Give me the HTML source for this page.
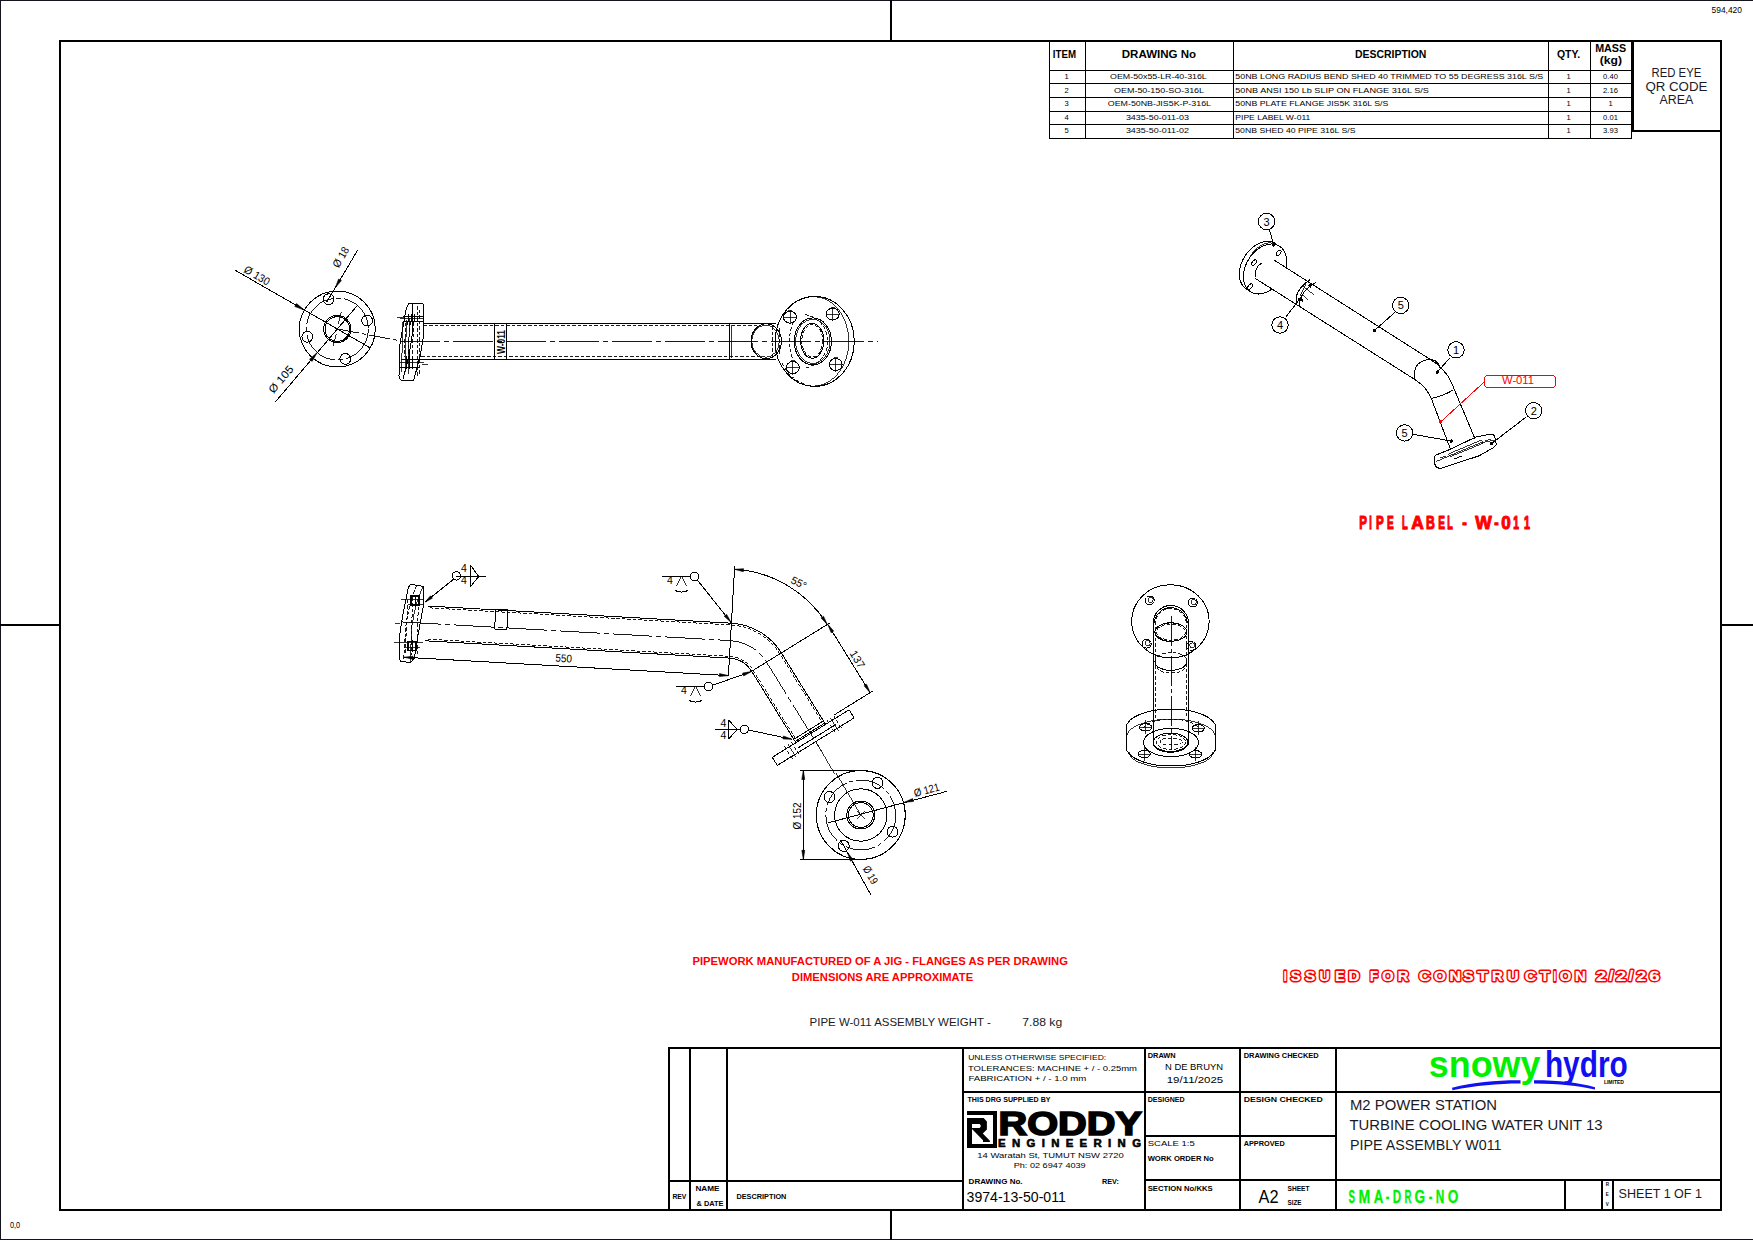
<!DOCTYPE html>
<html><head><meta charset="utf-8">
<style>
html,body{margin:0;padding:0;background:#fff;width:1753px;height:1240px;overflow:hidden}
svg{display:block;font-family:"Liberation Sans",sans-serif}
.k{fill:#000}
.t{fill:#000;font-family:"Liberation Sans",sans-serif}
</style></head>
<body>
<svg width="1753" height="1240" viewBox="0 0 1753 1240">
<!-- ===== FRAME ===== -->
<g id="frame" shape-rendering="crispEdges">
<rect x="0" y="0" width="1753" height="1" fill="#14141e"/>
<rect x="0" y="0" width="1" height="1240" fill="#14141e"/>
<rect x="0" y="1239" width="1753" height="1" fill="#14141e"/>
<rect x="59" y="40" width="1663" height="2" class="k"/>
<rect x="59" y="1209" width="1663" height="2" class="k"/>
<rect x="59" y="40" width="2" height="1171" class="k"/>
<rect x="1720" y="40" width="2" height="1171" class="k"/>
<rect x="890" y="0" width="2" height="41" class="k"/>
<rect x="890" y="1210" width="2" height="30" class="k"/>
<rect x="0" y="624" width="60" height="2" class="k"/>
<rect x="1721" y="624" width="32" height="2" class="k"/>
</g>
<text x="1711.5" y="13.2" font-size="8.3" class="t" textLength="30.5" lengthAdjust="spacingAndGlyphs">594,420</text>
<text x="10" y="1228.4" font-size="9" class="t" textLength="10.2" lengthAdjust="spacingAndGlyphs">0,0</text>

<!-- ===== BOM TABLE ===== -->
<g id="bom" shape-rendering="crispEdges">
<rect x="1049" y="40" width="1" height="99" class="k"/>
<rect x="1085" y="40" width="1" height="99" class="k"/>
<rect x="1233" y="40" width="1" height="99" class="k"/>
<rect x="1548" y="40" width="1" height="99" class="k"/>
<rect x="1590" y="40" width="1" height="99" class="k"/>
<rect x="1631" y="40" width="1" height="99" class="k"/>
<rect x="1049" y="70" width="583" height="1" class="k"/>
<rect x="1049" y="83" width="583" height="1" class="k"/>
<rect x="1049" y="97" width="583" height="1" class="k"/>
<rect x="1049" y="111" width="583" height="1" class="k"/>
<rect x="1049" y="124" width="583" height="1" class="k"/>
<rect x="1049" y="138" width="583" height="1" class="k"/>
<rect x="1632" y="40" width="2" height="92" class="k"/>
<rect x="1632" y="130" width="90" height="2" class="k"/>
</g>
<g id="bomtext" font-size="7.6" fill="#000">
<text x="1066.5" y="79" text-anchor="middle">1</text>
<text x="1110.1" y="79" textLength="96.7" lengthAdjust="spacingAndGlyphs">OEM-50x55-LR-40-316L</text>
<text x="1235.3" y="79" textLength="308.0" lengthAdjust="spacingAndGlyphs">50NB LONG RADIUS BEND SHED 40 TRIMMED TO 55 DEGRESS 316L S/S</text>
<text x="1568.6" y="79" text-anchor="middle">1</text>
<text x="1610.5" y="79" text-anchor="middle">0.40</text>
<text x="1066.5" y="93" text-anchor="middle">2</text>
<text x="1114.0" y="93" textLength="90.1" lengthAdjust="spacingAndGlyphs">OEM-50-150-SO-316L</text>
<text x="1235.3" y="93" textLength="193.6" lengthAdjust="spacingAndGlyphs">50NB ANSI 150 Lb SLIP ON  FLANGE 316L S/S</text>
<text x="1568.6" y="93" text-anchor="middle">1</text>
<text x="1610.5" y="93" text-anchor="middle">2.16</text>
<text x="1066.5" y="106.3" text-anchor="middle">3</text>
<text x="1107.8" y="106.3" textLength="103.2" lengthAdjust="spacingAndGlyphs">OEM-50NB-JIS5K-P-316L</text>
<text x="1235.3" y="106.3" textLength="153.1" lengthAdjust="spacingAndGlyphs">50NB PLATE FLANGE JIS5K 316L S/S</text>
<text x="1568.6" y="106.3" text-anchor="middle">1</text>
<text x="1610.5" y="106.3" text-anchor="middle">1</text>
<text x="1066.5" y="119.6" text-anchor="middle">4</text>
<text x="1125.9" y="119.6" textLength="63.1" lengthAdjust="spacingAndGlyphs">3435-50-011-03</text>
<text x="1235.3" y="119.6" textLength="75.0" lengthAdjust="spacingAndGlyphs">PIPE LABEL W-011</text>
<text x="1568.6" y="119.6" text-anchor="middle">1</text>
<text x="1610.5" y="119.6" text-anchor="middle">0.01</text>
<text x="1066.5" y="132.8" text-anchor="middle">5</text>
<text x="1125.9" y="132.8" textLength="63.1" lengthAdjust="spacingAndGlyphs">3435-50-011-02</text>
<text x="1235.3" y="132.8" textLength="120.2" lengthAdjust="spacingAndGlyphs">50NB SHED 40 PIPE 316L S/S</text>
<text x="1568.6" y="132.8" text-anchor="middle">1</text>
<text x="1610.5" y="132.8" text-anchor="middle">3.93</text>
</g>
<g id="bomhead" font-size="10.5" font-weight="bold" fill="#000">
<text x="1052.8" y="58" textLength="23.2" lengthAdjust="spacingAndGlyphs">ITEM</text>
<text x="1121.8" y="58" textLength="74.3" lengthAdjust="spacingAndGlyphs">DRAWING No</text>
<text x="1354.9" y="58" textLength="71.5" lengthAdjust="spacingAndGlyphs">DESCRIPTION</text>
<text x="1556.9" y="58" textLength="23.2" lengthAdjust="spacingAndGlyphs">QTY.</text>
<text x="1595.2" y="52" textLength="31" lengthAdjust="spacingAndGlyphs">MASS</text>
<text x="1599.7" y="63.5" textLength="22.3" lengthAdjust="spacingAndGlyphs">(kg)</text>
</g>
<g id="qr" font-size="12.3" fill="#1a1a28" text-anchor="middle">
<text x="1676.4" y="77.2" textLength="49.9" lengthAdjust="spacingAndGlyphs">RED EYE</text>
<text x="1676.4" y="91" textLength="62" lengthAdjust="spacingAndGlyphs">QR CODE</text>
<text x="1676.4" y="104" textLength="33.8" lengthAdjust="spacingAndGlyphs">AREA</text>
</g>
<!-- ===== TITLE BLOCK ===== -->
<g id="tb" shape-rendering="crispEdges" fill="#000">
<rect x="668" y="1047" width="1053" height="2"/>
<rect x="668" y="1047" width="2" height="163"/>
<rect x="689" y="1047" width="2" height="163"/>
<rect x="726" y="1047" width="2" height="163"/>
<rect x="668" y="1180" width="295" height="2"/>
<rect x="962" y="1047" width="2" height="163"/>
<rect x="962" y="1091" width="759" height="2"/>
<rect x="1144" y="1047" width="2" height="163"/>
<rect x="1239" y="1047" width="2" height="163"/>
<rect x="1335" y="1047" width="2" height="163"/>
<rect x="1144" y="1135" width="193" height="2"/>
<rect x="1144" y="1179" width="577" height="2"/>
<rect x="1564" y="1179" width="2" height="31"/>
<rect x="1601" y="1179" width="2" height="31"/>
<rect x="1612" y="1179" width="2" height="31"/>
</g>
<g id="tbtext" fill="#000">
<g font-size="7" font-weight="bold">
<text x="672.4" y="1198.5" textLength="14" lengthAdjust="spacingAndGlyphs">REV</text>
<text x="695.4" y="1190.5" textLength="24" lengthAdjust="spacingAndGlyphs">NAME</text>
<text x="696.5" y="1205.5" textLength="27" lengthAdjust="spacingAndGlyphs">&amp; DATE</text>
<text x="736.4" y="1198.5" textLength="50" lengthAdjust="spacingAndGlyphs">DESCRIPTION</text>
</g>
<g font-size="7.8">
<text x="968.2" y="1060" textLength="138" lengthAdjust="spacingAndGlyphs">UNLESS  OTHERWISE SPECIFIED:</text>
<text x="968" y="1071.2" textLength="169" lengthAdjust="spacingAndGlyphs">TOLERANCES: MACHINE + / - 0.25mm</text>
<text x="968.4" y="1081.3" textLength="118" lengthAdjust="spacingAndGlyphs">FABRICATION + / - 1.0 mm</text>
</g>
<g font-size="6.6" font-weight="bold">
<text x="967.5" y="1102.2" textLength="83" lengthAdjust="spacingAndGlyphs">THIS DRG SUPPLIED BY</text>
<text x="968.6" y="1184" textLength="54" lengthAdjust="spacingAndGlyphs">DRAWING No.</text>
<text x="1101.9" y="1184" textLength="17" lengthAdjust="spacingAndGlyphs">REV:</text>
<text x="1147.7" y="1058" textLength="28" lengthAdjust="spacingAndGlyphs">DRAWN</text>
<text x="1147.7" y="1102" textLength="37" lengthAdjust="spacingAndGlyphs">DESIGNED</text>
<text x="1147.7" y="1160.8" textLength="66" lengthAdjust="spacingAndGlyphs">WORK ORDER No</text>
<text x="1147.7" y="1191.4" textLength="65" lengthAdjust="spacingAndGlyphs">SECTION No/KKS</text>
<text x="1243.7" y="1058" textLength="75" lengthAdjust="spacingAndGlyphs">DRAWING CHECKED</text>
<text x="1243.7" y="1102" textLength="79" lengthAdjust="spacingAndGlyphs">DESIGN  CHECKED</text>
<text x="1243.7" y="1146" textLength="41" lengthAdjust="spacingAndGlyphs">APPROVED</text>
<text x="1287.5" y="1191" textLength="22" lengthAdjust="spacingAndGlyphs">SHEET</text>
<text x="1287.5" y="1204.8" textLength="14" lengthAdjust="spacingAndGlyphs">SIZE</text>
</g>
<text x="1147.7" y="1146" font-size="7.6" textLength="47" lengthAdjust="spacingAndGlyphs">SCALE   1:5</text>
<text x="1165" y="1070" font-size="9.6" textLength="58" lengthAdjust="spacingAndGlyphs">N DE BRUYN</text>
<text x="1166.7" y="1083" font-size="9.6" textLength="56.5" lengthAdjust="spacingAndGlyphs">19/11/2025</text>
<text x="966.6" y="1202" font-size="14.4" textLength="99.2" lengthAdjust="spacingAndGlyphs">3974-13-50-011</text>
<text x="977.3" y="1158.4" font-size="8" textLength="146.4" lengthAdjust="spacingAndGlyphs">14 Waratah St, TUMUT NSW 2720</text>
<text x="1013.7" y="1168.3" font-size="8" textLength="72" lengthAdjust="spacingAndGlyphs">Ph: 02 6947 4039</text>
<text x="1258.5" y="1203" font-size="18" textLength="20" lengthAdjust="spacingAndGlyphs">A2</text>
<g font-size="14.4" fill="#1a1a24">
<text x="1350" y="1110" textLength="147" lengthAdjust="spacingAndGlyphs">M2 POWER STATION</text>
<text x="1349.5" y="1130" textLength="253" lengthAdjust="spacingAndGlyphs">TURBINE COOLING WATER UNIT 13</text>
<text x="1350" y="1150" textLength="151.5" lengthAdjust="spacingAndGlyphs">PIPE ASSEMBLY  W011</text>
</g>
<text x="1618.6" y="1197.5" font-size="13" fill="#1a1a24" textLength="83.4" lengthAdjust="spacingAndGlyphs">SHEET 1 OF 1</text>
<g id="smadrg" font-size="18.9" font-weight="bold" fill="#00f000" stroke="#00f000" stroke-width="0.25" text-anchor="middle">
<text vector-effect="non-scaling-stroke" transform="translate(1351.85 1202.8) scale(0.516 1)">S</text>
<text vector-effect="non-scaling-stroke" transform="translate(1364.45 1202.8) scale(0.745 1)">M</text>
<text vector-effect="non-scaling-stroke" transform="translate(1378.55 1202.8) scale(0.699 1)">A</text>
<text vector-effect="non-scaling-stroke" transform="translate(1387.50 1202.8) scale(0.571 1)">-</text>
<text vector-effect="non-scaling-stroke" transform="translate(1396.90 1202.8) scale(0.618 1)">D</text>
<text vector-effect="non-scaling-stroke" transform="translate(1408.05 1202.8) scale(0.507 1)">R</text>
<text vector-effect="non-scaling-stroke" transform="translate(1419.90 1202.8) scale(0.721 1)">G</text>
<text vector-effect="non-scaling-stroke" transform="translate(1430.50 1202.8) scale(0.571 1)">-</text>
<text vector-effect="non-scaling-stroke" transform="translate(1439.95 1202.8) scale(0.625 1)">N</text>
<text vector-effect="non-scaling-stroke" transform="translate(1453.00 1202.8) scale(0.721 1)">O</text>
</g>
<g font-size="4.5" font-weight="bold" text-anchor="middle">
<text x="1607.3" y="1186">R</text><text x="1607.3" y="1196">E</text><text x="1607.3" y="1206">V</text>
</g>
</g>

<!-- ===== LOGOS ===== -->
<g id="roddy" fill="#000">
<rect x="967" y="1111" width="30" height="4"/>
<rect x="993" y="1111" width="4" height="37"/>
<rect x="967" y="1144" width="30" height="4"/>
<path d="M967 1118 H983.6 L986.9 1121.4 V1129.5 L982.8 1133.6 L989.9 1140.7 V1141.9 H983 V1140.2 L972 1129 V1144 H967 Z M972 1123.9 V1128 H979.7 L981 1125.9 L979.7 1123.9 Z" fill-rule="evenodd"/>
<text x="998.5" y="1135" font-size="32.5" font-weight="bold" stroke="#000" stroke-width="1.6" textLength="143.5" lengthAdjust="spacingAndGlyphs">RODDY</text>
<text x="998" y="1147.4" font-size="11.4" font-weight="bold" stroke="#000" stroke-width="0.6" textLength="143" lengthAdjust="spacing">ENGINEERING</text>
</g>
<g id="snowy">
<text x="1428.8" y="1077.4" font-size="37" font-weight="bold" fill="#00f000" textLength="111.7" lengthAdjust="spacingAndGlyphs">snowy</text>
<text x="1544.9" y="1077.4" font-size="37" font-weight="bold" fill="#1010f0" textLength="82.8" lengthAdjust="spacingAndGlyphs">hydro</text>
<path d="M1452 1087.8 C1475 1082 1495 1080.2 1520.5 1080.3 L1520.5 1083.6 C1497 1083.6 1476 1085.8 1452.5 1090.2 Z" fill="#1010f0"/>
<path d="M1534 1080.3 C1560 1080.3 1578 1082.8 1595 1087.2 L1595 1089.6 C1578 1086 1560 1083.8 1534 1083.6 Z" fill="#1010f0"/>
<text x="1603.9" y="1083.6" font-size="5" font-weight="bold" fill="#000" textLength="20" lengthAdjust="spacingAndGlyphs">LIMITED</text>
</g>
<!-- ===== NOTES ===== -->
<g id="notes">
<text x="692.5" y="965" font-size="11.8" font-weight="bold" fill="#f00" textLength="375.4" lengthAdjust="spacingAndGlyphs">PIPEWORK MANUFACTURED OF A JIG - FLANGES AS PER DRAWING</text>
<text x="791.8" y="980.8" font-size="11.8" font-weight="bold" fill="#f00" textLength="181.4" lengthAdjust="spacingAndGlyphs">DIMENSIONS ARE APPROXIMATE</text>
<text x="809.6" y="1026" font-size="11.3" fill="#1a1a24" textLength="181.2" lengthAdjust="spacingAndGlyphs">PIPE W-011 ASSEMBLY WEIGHT -</text>
<text x="1022.3" y="1026" font-size="11.3" fill="#1a1a24" textLength="39.9" lengthAdjust="spacingAndGlyphs">7.88 kg</text>
<g font-size="18.90" font-weight="bold" fill="#f00" stroke="#f00" stroke-width="1.0" vector-effect="non-scaling-stroke" stroke-linejoin="round" >
<text vector-effect="non-scaling-stroke" transform="translate(1359.15 528.50) scale(0.611 1)">P</text>
<text vector-effect="non-scaling-stroke" transform="translate(1369.15 528.50) scale(0.476 1)">I</text>
<text vector-effect="non-scaling-stroke" transform="translate(1376.05 528.50) scale(0.611 1)">P</text>
<text vector-effect="non-scaling-stroke" transform="translate(1387.05 528.50) scale(0.532 1)">E</text>
<text vector-effect="non-scaling-stroke" transform="translate(1401.95 528.50) scale(0.494 1)">L</text>
<text vector-effect="non-scaling-stroke" transform="translate(1411.25 528.50) scale(0.916 1)">A</text>
<text vector-effect="non-scaling-stroke" transform="translate(1426.05 528.50) scale(0.645 1)">B</text>
<text vector-effect="non-scaling-stroke" transform="translate(1438.15 528.50) scale(0.532 1)">E</text>
<text vector-effect="non-scaling-stroke" transform="translate(1447.25 528.50) scale(0.476 1)">L</text>
<text vector-effect="non-scaling-stroke" transform="translate(1462.25 528.50) scale(0.731 1)">-</text>
<text vector-effect="non-scaling-stroke" transform="translate(1475.25 528.50) scale(0.925 1)">W</text>
<text vector-effect="non-scaling-stroke" transform="translate(1494.15 528.50) scale(0.699 1)">-</text>
<text vector-effect="non-scaling-stroke" transform="translate(1501.25 528.50) scale(0.904 1)">0</text>
<text vector-effect="non-scaling-stroke" transform="translate(1513.15 528.50) scale(0.543 1)">1</text>
<text vector-effect="non-scaling-stroke" transform="translate(1523.95 528.50) scale(0.571 1)">1</text>
</g>
<g id="ifc">
<g font-size="14.97" font-weight="bold" fill="#f00" stroke="#f00" stroke-width="3.2" vector-effect="non-scaling-stroke" stroke-linejoin="round" >
<text vector-effect="non-scaling-stroke" transform="translate(1283.80 980.55) scale(0.721 1)">I</text>
<text vector-effect="non-scaling-stroke" transform="translate(1290.80 980.55) scale(0.991 1)">S</text>
<text vector-effect="non-scaling-stroke" transform="translate(1304.90 980.55) scale(1.031 1)">S</text>
<text vector-effect="non-scaling-stroke" transform="translate(1319.40 980.55) scale(0.944 1)">U</text>
<text vector-effect="non-scaling-stroke" transform="translate(1335.20 980.55) scale(0.941 1)">E</text>
<text vector-effect="non-scaling-stroke" transform="translate(1348.60 980.55) scale(1.018 1)">D</text>
<text vector-effect="non-scaling-stroke" transform="translate(1370.00 980.55) scale(0.875 1)">F</text>
<text vector-effect="non-scaling-stroke" transform="translate(1382.20 980.55) scale(0.979 1)">O</text>
<text vector-effect="non-scaling-stroke" transform="translate(1397.80 980.55) scale(0.999 1)">R</text>
<text vector-effect="non-scaling-stroke" transform="translate(1418.90 980.55) scale(1.055 1)">C</text>
<text vector-effect="non-scaling-stroke" transform="translate(1434.00 980.55) scale(1.022 1)">O</text>
<text vector-effect="non-scaling-stroke" transform="translate(1449.50 980.55) scale(1.055 1)">N</text>
<text vector-effect="non-scaling-stroke" transform="translate(1463.30 980.55) scale(1.031 1)">S</text>
<text vector-effect="non-scaling-stroke" transform="translate(1477.40 980.55) scale(1.126 1)">T</text>
<text vector-effect="non-scaling-stroke" transform="translate(1492.00 980.55) scale(1.008 1)">R</text>
<text vector-effect="non-scaling-stroke" transform="translate(1507.20 980.55) scale(1.055 1)">U</text>
<text vector-effect="non-scaling-stroke" transform="translate(1524.70 980.55) scale(1.064 1)">C</text>
<text vector-effect="non-scaling-stroke" transform="translate(1539.90 980.55) scale(1.060 1)">T</text>
<text vector-effect="non-scaling-stroke" transform="translate(1553.40 980.55) scale(0.649 1)">I</text>
<text vector-effect="non-scaling-stroke" transform="translate(1559.80 980.55) scale(0.987 1)">O</text>
<text vector-effect="non-scaling-stroke" transform="translate(1575.00 980.55) scale(1.008 1)">N</text>
<text vector-effect="non-scaling-stroke" transform="translate(1596.10 980.55) scale(1.237 1)">2</text>
<text vector-effect="non-scaling-stroke" transform="translate(1608.90 980.55) scale(1.081 1)">/</text>
<text vector-effect="non-scaling-stroke" transform="translate(1616.00 980.55) scale(1.225 1)">2</text>
<text vector-effect="non-scaling-stroke" transform="translate(1628.80 980.55) scale(1.057 1)">/</text>
<text vector-effect="non-scaling-stroke" transform="translate(1636.40 980.55) scale(1.165 1)">2</text>
<text vector-effect="non-scaling-stroke" transform="translate(1649.30 980.55) scale(1.237 1)">6</text>
</g>
<g font-size="14.97" font-weight="bold" fill="#fff" stroke="#fff" stroke-width="0.2" vector-effect="non-scaling-stroke" stroke-linejoin="round" >
<text vector-effect="non-scaling-stroke" transform="translate(1283.80 980.55) scale(0.721 1)">I</text>
<text vector-effect="non-scaling-stroke" transform="translate(1290.80 980.55) scale(0.991 1)">S</text>
<text vector-effect="non-scaling-stroke" transform="translate(1304.90 980.55) scale(1.031 1)">S</text>
<text vector-effect="non-scaling-stroke" transform="translate(1319.40 980.55) scale(0.944 1)">U</text>
<text vector-effect="non-scaling-stroke" transform="translate(1335.20 980.55) scale(0.941 1)">E</text>
<text vector-effect="non-scaling-stroke" transform="translate(1348.60 980.55) scale(1.018 1)">D</text>
<text vector-effect="non-scaling-stroke" transform="translate(1370.00 980.55) scale(0.875 1)">F</text>
<text vector-effect="non-scaling-stroke" transform="translate(1382.20 980.55) scale(0.979 1)">O</text>
<text vector-effect="non-scaling-stroke" transform="translate(1397.80 980.55) scale(0.999 1)">R</text>
<text vector-effect="non-scaling-stroke" transform="translate(1418.90 980.55) scale(1.055 1)">C</text>
<text vector-effect="non-scaling-stroke" transform="translate(1434.00 980.55) scale(1.022 1)">O</text>
<text vector-effect="non-scaling-stroke" transform="translate(1449.50 980.55) scale(1.055 1)">N</text>
<text vector-effect="non-scaling-stroke" transform="translate(1463.30 980.55) scale(1.031 1)">S</text>
<text vector-effect="non-scaling-stroke" transform="translate(1477.40 980.55) scale(1.126 1)">T</text>
<text vector-effect="non-scaling-stroke" transform="translate(1492.00 980.55) scale(1.008 1)">R</text>
<text vector-effect="non-scaling-stroke" transform="translate(1507.20 980.55) scale(1.055 1)">U</text>
<text vector-effect="non-scaling-stroke" transform="translate(1524.70 980.55) scale(1.064 1)">C</text>
<text vector-effect="non-scaling-stroke" transform="translate(1539.90 980.55) scale(1.060 1)">T</text>
<text vector-effect="non-scaling-stroke" transform="translate(1553.40 980.55) scale(0.649 1)">I</text>
<text vector-effect="non-scaling-stroke" transform="translate(1559.80 980.55) scale(0.987 1)">O</text>
<text vector-effect="non-scaling-stroke" transform="translate(1575.00 980.55) scale(1.008 1)">N</text>
<text vector-effect="non-scaling-stroke" transform="translate(1596.10 980.55) scale(1.237 1)">2</text>
<text vector-effect="non-scaling-stroke" transform="translate(1608.90 980.55) scale(1.081 1)">/</text>
<text vector-effect="non-scaling-stroke" transform="translate(1616.00 980.55) scale(1.225 1)">2</text>
<text vector-effect="non-scaling-stroke" transform="translate(1628.80 980.55) scale(1.057 1)">/</text>
<text vector-effect="non-scaling-stroke" transform="translate(1636.40 980.55) scale(1.165 1)">2</text>
<text vector-effect="non-scaling-stroke" transform="translate(1649.30 980.55) scale(1.237 1)">6</text>
</g>
</g>
</g>

<!-- ===== VIEWS ===== -->
<style>.l{fill:none;stroke:#000;stroke-width:1}.d{fill:none;stroke:#000;stroke-width:0.9;stroke-dasharray:3.5 2}.c{fill:none;stroke:#000;stroke-width:0.9;stroke-dasharray:18 3 3 3}.tn{fill:none;stroke:#000;stroke-width:0.8}.r{fill:none;stroke:#f00;stroke-width:1}</style>
<g id="viewA" fill="#000" shape-rendering="crispEdges">
<circle cx="337.3" cy="329" r="38" class="l" />
<circle cx="337.3" cy="329" r="31" class="c" style="stroke-dasharray:40 3 5 3"/>
<circle cx="337.3" cy="329" r="13.6" class="l" />
<circle cx="337.3" cy="329" r="12.3" class="l" />
<circle cx="328.6" cy="299.2" r="5.4" class="l" />
<circle cx="367.1" cy="320.6" r="5.4" class="l" />
<circle cx="307.3" cy="336.8" r="5.4" class="l" />
<circle cx="345.3" cy="358.9" r="5.4" class="l" />
<line x1="235.1" y1="270.2" x2="370.2" y2="347.9" class="l" />
<path d="M304.4 310.1 L294.8 306.5 L296.5 303.6Z" fill="#000" stroke="#000" stroke-width="0.6" shape-rendering="geometricPrecision"/>
<text x="243" y="271.8" font-size="11" text-anchor="start" transform="rotate(29.9 243 271.8)" textLength="28" lengthAdjust="spacingAndGlyphs">Ø 130</text>
<line x1="275.5" y1="401.8" x2="357.4" y2="305.4" class="l" />
<path d="M317.2 352.6 L312.1 361.4 L309.5 359.2Z" fill="#000" stroke="#000" stroke-width="0.6" shape-rendering="geometricPrecision"/>
<text x="273.5" y="394" font-size="11" text-anchor="start" transform="rotate(-49.7 273.5 394)" textLength="32" lengthAdjust="spacingAndGlyphs">Ø 105</text>
<line x1="357.6" y1="250.3" x2="326.5" y2="302.5" class="l" />
<path d="M335.4 287.5 L338.6 279 L341.4 280.6Z" fill="#000" stroke="#000" stroke-width="0.6" shape-rendering="geometricPrecision"/>
<text x="338.5" y="268.5" font-size="11" text-anchor="start" transform="rotate(-59.6 338.5 268.5)" textLength="22" lengthAdjust="spacingAndGlyphs">Ø 18</text>
<line x1="337.3" y1="329" x2="400" y2="340.8" class="c" style="stroke-dasharray:22 3 4 3"/>
<line x1="338.4" y1="324.1" x2="341.1" y2="312.4" class="tn" />
<line x1="336.2" y1="333.9" x2="333.5" y2="345.6" class="tn" />
<line x1="333" y1="326.5" x2="322.6" y2="320.5" class="tn" />
</g>
<g id="viewB" fill="#000" shape-rendering="crispEdges">
<path d="M410.3 303 L423 304 Q424 305 423.7 310 L423.7 334.8 L420.2 356.3 L413.7 380 L401.1 380 Q399 379 399 376 L399.2 348.6 L404.5 318 L406.5 308 Q408 303.5 410.3 303Z" class="l" />
<path d="M412.6 303.2 L413 330 L409 356 L403 379" class="l" />
<line x1="417" y1="306" x2="417" y2="378" class="d" />
<line x1="420" y1="310" x2="419.5" y2="376" class="d" />
<line x1="406.5" y1="320" x2="405" y2="372" class="tn" />
<line x1="409.5" y1="318" x2="408" y2="374" class="tn" />
<path d="M399.5 318 L424 318 M399.5 362 L424 362 M397 317.5 L405 317.5 M422 364.5 L428 364.5" class="tn" />
<path d="M403 316.5 L423 316.5 M402.5 321.5 L423.5 321.5 M400.5 359 L421 359 M400 367 L418.5 367" class="l" stroke-width="1.3"/>
<line x1="408.5" y1="314" x2="407.7" y2="325" class="l" stroke-width="1.4"/>
<line x1="407" y1="356" x2="406" y2="369" class="l" stroke-width="1.4"/>
<line x1="411.5" y1="314" x2="410.7" y2="325" class="l" stroke-width="1.4"/>
<line x1="410" y1="356" x2="409" y2="369" class="l" stroke-width="1.4"/>
<line x1="414.5" y1="314" x2="413.7" y2="325" class="l" stroke-width="1.4"/>
<line x1="413" y1="356" x2="412" y2="369" class="l" stroke-width="1.4"/>
<line x1="405.5" y1="323" x2="404.5" y2="357" class="d" />
<line x1="409.5" y1="323" x2="408.5" y2="357" class="d" />
<line x1="413.5" y1="323" x2="412.5" y2="357" class="d" />
<line x1="402.8" y1="322" x2="401.5" y2="372" class="tn" />
<line x1="423.7" y1="323.8" x2="776" y2="323.8" class="l" />
<line x1="419.8" y1="359.5" x2="776" y2="359.5" class="l" />
<line x1="423.7" y1="325.6" x2="760" y2="325.6" class="d" />
<line x1="421" y1="356.6" x2="760" y2="356.6" class="d" />
<line x1="400" y1="341" x2="878" y2="341" class="c" style="stroke-dasharray:40 4 5 4"/>
<line x1="494.5" y1="323.8" x2="494.5" y2="359.5" class="l" />
<line x1="506.7" y1="323.8" x2="506.7" y2="359.5" class="l" />
<text x="0" y="0" font-size="10.5" font-weight="bold" transform="translate(504.5 354) rotate(-90)" textLength="24" lengthAdjust="spacingAndGlyphs">W-011</text>
<line x1="729.3" y1="323.8" x2="729.3" y2="359.5" class="l" />
<line x1="731.2" y1="325" x2="731.2" y2="358" class="tn" />
<ellipse cx="766.2" cy="341.2" rx="15.2" ry="17.4" class="l" />
<ellipse cx="765.5" cy="341.2" rx="13.8" ry="16" class="tn" />
<line x1="772.2" y1="326" x2="772.2" y2="357" class="d" />
<line x1="779.4" y1="328" x2="779.4" y2="355" class="d" />
<ellipse cx="814.7" cy="341.4" rx="39.6" ry="45" class="l" />
<path d="M815 296.6 A35 44.5 0 0 1 848.8 341 A35 44.5 0 0 1 815 386" class="tn" />
<path d="M778 325 A37 42 0 0 1 800 300" class="d" />
<path d="M782 363 A37 42 0 0 0 805 384" class="d" />
<ellipse cx="812.8" cy="341.4" rx="18.6" ry="23.5" class="l" />
<ellipse cx="812.8" cy="341.4" rx="17.2" ry="22" class="tn" />
<ellipse cx="812.2" cy="340.8" rx="11.6" ry="17.4" class="l" />
<ellipse cx="812.2" cy="340.8" rx="10.4" ry="16.2" class="d" />
<path d="M805.2 314.6 A27 27 0 0 1 805 367.9" class="d" />
<path d="M793 322 Q786 341 793 360" class="d" />
<ellipse cx="790" cy="317.1" rx="6.5" ry="6" class="l" />
<line x1="790" y1="310.1" x2="790" y2="324.1" class="tn" />
<line x1="783" y1="317.1" x2="797" y2="317.1" class="tn" />
<line x1="788" y1="310.1" x2="792" y2="310.1" class="tn" />
<ellipse cx="832.7" cy="314.1" rx="6.5" ry="6" class="l" />
<line x1="832.7" y1="307.1" x2="832.7" y2="321.1" class="tn" />
<line x1="825.7" y1="314.1" x2="839.7" y2="314.1" class="tn" />
<line x1="830.7" y1="307.1" x2="834.7" y2="307.1" class="tn" />
<ellipse cx="792.9" cy="367.5" rx="6.5" ry="6" class="l" />
<line x1="792.9" y1="360.5" x2="792.9" y2="374.5" class="tn" />
<line x1="785.9" y1="367.5" x2="799.9" y2="367.5" class="tn" />
<line x1="790.9" y1="360.5" x2="794.9" y2="360.5" class="tn" />
<ellipse cx="835.7" cy="364.5" rx="6.5" ry="6" class="l" />
<line x1="835.7" y1="357.5" x2="835.7" y2="371.5" class="tn" />
<line x1="828.7" y1="364.5" x2="842.7" y2="364.5" class="tn" />
<line x1="833.7" y1="357.5" x2="837.7" y2="357.5" class="tn" />
</g>
<g id="viewC" fill="#000" shape-rendering="crispEdges">
<path d="M427.4 606 L731.4 623.2 A63 63 0 0 1 781.4 653 L825.6 724.4" class="l" />
<path d="M425.4 640.8 L729.4 658.1 A28.1 28.1 0 0 1 751.7 671.3 L795.9 742.7" class="l" />
<path d="M429.8 607.9 L731.3 625 A61.2 61.2 0 0 1 779.9 653.9 L822 721.9" class="d" />
<path d="M428 639.2 L729.5 656.3 A29.8 29.8 0 0 1 753.2 670.4 L795.3 738.4" class="d" />
<path d="M400.9 621.9 L730.4 640.6 A45.5 45.5 0 0 1 766.5 662.1 L821.2 750.6" class="c" style="stroke-dasharray:40 4 5 4"/>
<line x1="817" y1="743.8" x2="834.4" y2="773.5" class="tn" />
<line x1="495.7" y1="609.8" x2="494.6" y2="629" class="l" />
<line x1="507.9" y1="610.5" x2="506.9" y2="629.7" class="l" />
<path d="M495.7 609.3 L507.9 610" class="l" stroke-width="2.5"/>
<line x1="494.6" y1="629" x2="506.9" y2="629.7" class="l" />
<line x1="728.4" y1="676.1" x2="734.7" y2="565.8" class="l" />
<line x1="750.8" y1="671.8" x2="829.9" y2="622.9" class="l" />
<line x1="834.4" y1="714.8" x2="872.6" y2="691.1" class="l" />
<line x1="827.7" y1="624.2" x2="870.1" y2="692.7" class="l" />
<path d="M827.7 624.2 L833.7 631.1 L831.2 632.7Z" fill="#000" stroke="#000" stroke-width="0.6" shape-rendering="geometricPrecision"/>
<path d="M870.1 692.7 L864.1 685.8 L866.6 684.3Z" fill="#000" stroke="#000" stroke-width="0.6" shape-rendering="geometricPrecision"/>
<text x="849.2" y="653.3" font-size="11" text-anchor="start" transform="rotate(58.2 849.2 653.3)" textLength="19" lengthAdjust="spacingAndGlyphs">137</text>
<path d="M734.5 569.3 A117 117 0 0 1 827.3 624.5" class="l" />
<path d="M734.5 569.3 L743.6 568.7 L743.3 571.7Z" fill="#000" stroke="#000" stroke-width="0.6" shape-rendering="geometricPrecision"/>
<path d="M827.3 624.5 L821 617.9 L823.5 616.2Z" fill="#000" stroke="#000" stroke-width="0.6" shape-rendering="geometricPrecision"/>
<text x="790.1" y="582.4" font-size="10.5" text-anchor="start" transform="rotate(27 790.1 582.4)" textLength="16" lengthAdjust="spacingAndGlyphs">55°</text>
<line x1="403.9" y1="657.2" x2="728.4" y2="675.6" class="l" />
<path d="M403.9 657.2 L413 656.2 L412.8 659.2Z" fill="#000" stroke="#000" stroke-width="0.6" shape-rendering="geometricPrecision"/>
<path d="M728.4 675.6 L719.3 676.6 L719.5 673.6Z" fill="#000" stroke="#000" stroke-width="0.6" shape-rendering="geometricPrecision"/>
<text x="555.3" y="661.6" font-size="11" text-anchor="start" transform="rotate(3.2 555.3 661.6)" textLength="16.5" lengthAdjust="spacingAndGlyphs">550</text>
<path d="M410.7 584.2 L423.3 586.5 L423.3 606 L417 641 L414.5 657.8 L410.7 662.4 L401 661.5 Q399.2 660 399.2 657 L399.2 637.8 L402.3 617.9 L406.9 594.9 Q408 586 410.7 584.2Z" class="l" />
<path d="M423 587 Q416 600 412 625 L410 662" class="tn" />
<path d="M416.5 585.5 Q410 600 406 625 L403.5 660" class="d" />
<line x1="418.5" y1="596" x2="417" y2="655" class="d" />
<line x1="408" y1="600" x2="405" y2="655" class="d" />
<line x1="412.5" y1="598" x2="411" y2="655" class="d" />
<line x1="401.1" y1="599.5" x2="424" y2="599.5" class="tn" />
<line x1="394.2" y1="642.4" x2="423" y2="642.4" class="tn" />
<line x1="395" y1="623" x2="400" y2="623" class="tn" />
<line x1="404" y1="647" x2="420" y2="647" class="tn" />
<line x1="408" y1="604" x2="423" y2="604" class="tn" />
<rect x="411" y="596.0" width="8" height="9" fill="none" stroke="#000" stroke-width="1.5"/>
<line x1="415" y1="594.5" x2="415" y2="606.5" class="l" stroke-width="2"/>
<rect x="408" y="641.5" width="8" height="9" fill="none" stroke="#000" stroke-width="1.5"/>
<line x1="412" y1="640" x2="412" y2="652" class="l" stroke-width="2"/>
<circle cx="456.4" cy="575.9" r="4.2" class="l" />
<line x1="456.1" y1="576.5" x2="485.9" y2="576.5" class="l" />
<line x1="470.5" y1="565.1" x2="470.5" y2="586.7" class="l" />
<path d="M470.5 565.1 L478.7 576.5 L470.5 586.7" class="l" />
<text x="461" y="571.8" font-size="10.5" text-anchor="start" >4</text>
<text x="461" y="583.8" font-size="10.5" text-anchor="start" >4</text>
<line x1="453.7" y1="579.2" x2="425.2" y2="602" class="l" />
<path d="M425.2 602 L430.5 595.8 L432.4 598.2Z" fill="#000" stroke="#000" stroke-width="0.6" shape-rendering="geometricPrecision"/>
<line x1="662.1" y1="576.4" x2="690.1" y2="576.4" class="l" />
<circle cx="694.4" cy="576.4" r="4.3" class="l" />
<path d="M676.5 586.4 L681.5 576.4 L686.5 586.4" class="tn" />
<path d="M675.5 589.9 L676.5 591.2 L680.5 591.2 L681.5 592.4 L682.5 591.2 L686.5 591.2 L687.5 589.9" class="l" />
<text x="667.1" y="583.7" font-size="10.5" text-anchor="start" >4</text>
<line x1="697.2" y1="579.8" x2="731" y2="622.3" class="l" />
<path d="M731 622.3 L724.2 616.2 L726.6 614.3Z" fill="#000" stroke="#000" stroke-width="0.6" shape-rendering="geometricPrecision"/>
<line x1="675.9" y1="686.3" x2="704.3" y2="686.3" class="l" />
<circle cx="708.6" cy="686.3" r="4.3" class="l" />
<path d="M690.5 696.3 L695.5 686.3 L700.5 696.3" class="tn" />
<path d="M689.5 699.8 L690.5 701.1 L694.5 701.1 L695.5 702.3 L696.5 701.1 L700.5 701.1 L701.5 699.8" class="l" />
<text x="680.9" y="693.6" font-size="10.5" text-anchor="start" >4</text>
<line x1="712.8" y1="685.2" x2="751.6" y2="671.5" class="l" />
<path d="M751.6 671.5 L743.6 675.9 L742.6 673.1Z" fill="#000" stroke="#000" stroke-width="0.6" shape-rendering="geometricPrecision"/>
<circle cx="744.4" cy="729.3" r="4.2" class="l" />
<line x1="715" y1="729.3" x2="740.2" y2="729.3" class="l" />
<line x1="728.4" y1="719.9" x2="728.4" y2="739.4" class="l" />
<path d="M728.4 719.9 L737.3 729.3 L728.4 739.4" class="l" />
<text x="720.4" y="727" font-size="10.5" text-anchor="start" >4</text>
<text x="720.4" y="739" font-size="10.5" text-anchor="start" >4</text>
<line x1="748.5" y1="730" x2="792" y2="739.3" class="l" />
<path d="M792 739.3 L782.9 738.9 L783.5 736Z" fill="#000" stroke="#000" stroke-width="0.6" shape-rendering="geometricPrecision"/>
<path d="M772.3 757.3 L777.3 765.4 L854.1 717.9 L849.1 709.8Z" class="l" />
<line x1="793.8" y1="739.3" x2="823.4" y2="721" class="l" />
<line x1="795.1" y1="741.5" x2="824.8" y2="723.1" class="l" />
<line x1="798.3" y1="747.7" x2="835.7" y2="724.6" class="l" stroke-width="2"/>
<line x1="833.8" y1="715.8" x2="841.7" y2="728.5" class="d" />
<line x1="830.4" y1="717.9" x2="838.3" y2="730.6" class="tn" />
<line x1="827" y1="720" x2="834.9" y2="732.7" class="d" />
<line x1="791.3" y1="742.1" x2="799.2" y2="754.8" class="d" />
<line x1="787.9" y1="744.2" x2="795.8" y2="756.9" class="tn" />
<line x1="784.5" y1="746.3" x2="792.4" y2="759" class="d" />
</g>
<g id="viewD" fill="#000" shape-rendering="crispEdges">
<circle cx="860.8" cy="815" r="44.5" class="l" />
<circle cx="860.8" cy="815" r="35" class="c" style="stroke-dasharray:30 3 4 3"/>
<circle cx="860.8" cy="815" r="26.2" class="l" />
<circle cx="860.8" cy="815" r="14" class="l" />
<circle cx="860.8" cy="815" r="12.4" class="l" />
<circle cx="877.5" cy="782.9" r="5.5" class="l" />
<circle cx="829.5" cy="797.1" r="5.5" class="l" />
<circle cx="892.5" cy="831.7" r="5.5" class="l" />
<circle cx="843.7" cy="845.9" r="5.5" class="l" />
<line x1="856.8" y1="811" x2="864.8" y2="819" class="tn" />
<line x1="856.8" y1="819" x2="864.8" y2="811" class="tn" />
<line x1="803.3" y1="770.5" x2="803.3" y2="859.3" class="l" />
<path d="M803.3 770.5 L804.8 779.5 L801.8 779.5Z" fill="#000" stroke="#000" stroke-width="0.6" shape-rendering="geometricPrecision"/>
<path d="M803.3 859.3 L801.8 850.3 L804.8 850.3Z" fill="#000" stroke="#000" stroke-width="0.6" shape-rendering="geometricPrecision"/>
<line x1="800.3" y1="770.5" x2="858" y2="770.5" class="l" />
<line x1="800.3" y1="859.3" x2="858" y2="859.3" class="l" />
<text x="801" y="829.5" font-size="11" text-anchor="start" transform="rotate(-90 801 829.5)" textLength="27" lengthAdjust="spacingAndGlyphs">Ø 152</text>
<line x1="827.8" y1="822.9" x2="946.7" y2="791.4" class="l" />
<path d="M904.3 802.3 L912.6 798.6 L913.4 801.5Z" fill="#000" stroke="#000" stroke-width="0.6" shape-rendering="geometricPrecision"/>
<text x="915" y="797" font-size="11" text-anchor="start" transform="rotate(-15 915 797)" textLength="26" lengthAdjust="spacingAndGlyphs">Ø 121</text>
<line x1="840.5" y1="840" x2="871.3" y2="895.6" class="l" />
<path d="M847.5 852.6 L853.2 859.7 L850.5 861.2Z" fill="#000" stroke="#000" stroke-width="0.6" shape-rendering="geometricPrecision"/>
<text x="862.5" y="868.5" font-size="11" text-anchor="start" transform="rotate(60 862.5 868.5)" textLength="19" lengthAdjust="spacingAndGlyphs">Ø 19</text>
<line x1="860.8" y1="815" x2="836" y2="773" class="tn" />
</g>
<g id="viewE" fill="#000" shape-rendering="crispEdges">
<ellipse cx="1170.4" cy="621.3" rx="38.8" ry="36.6" class="l" />
<path d="M1136 605 A37 35 0 0 0 1136 638" class="d" />
<ellipse cx="1149.6" cy="600.4" rx="4.6" ry="4.4" class="l" />
<ellipse cx="1150.6" cy="599.9" rx="2.6" ry="2.6" class="tn" />
<ellipse cx="1192.8" cy="602.6" rx="4.6" ry="4.4" class="l" />
<ellipse cx="1193.8" cy="602.1" rx="2.6" ry="2.6" class="tn" />
<ellipse cx="1146.6" cy="643.7" rx="4.6" ry="4.4" class="l" />
<ellipse cx="1147.6" cy="643.2" rx="2.6" ry="2.6" class="tn" />
<ellipse cx="1191.3" cy="645.9" rx="4.6" ry="4.4" class="l" />
<ellipse cx="1192.3" cy="645.4" rx="2.6" ry="2.6" class="tn" />
<path d="M1153.3 720 L1153.3 623 A17.55 17.55 0 0 1 1188.4 623 L1188.4 720" class="l" stroke-width="1.2"/>
<path d="M1155.3 718 L1155.3 623 A15.6 15.6 0 0 1 1186.4 623 L1186.4 718" class="d" />
<path d="M1154.3 623 A16.6 16.6 0 0 1 1187.4 623" class="l" stroke-width="1.5"/>
<ellipse cx="1170.9" cy="632.1" rx="16" ry="9.3" class="l" />
<ellipse cx="1170.9" cy="632.1" rx="14.5" ry="8" class="d" />
<path d="M1154.9 661.5 A16 9 0 0 0 1186.9 661.5" class="l" stroke-width="1.6"/>
<path d="M1154.9 661.5 A16 9 0 0 1 1186.9 661.5" class="d" />
<path d="M1157 667 A14 6 0 0 0 1185 667" class="d" />
<line x1="1171.2" y1="616" x2="1171.2" y2="749" class="c" style="stroke-dasharray:30 3 4 3"/>
<path d="M1126.2 728 A44.8 19 0 0 1 1215.8 728 L1215.8 747 A44.8 19 0 0 1 1126.2 747 Z" class="l" />
<path d="M1126.8 735 A44.5 18 0 0 1 1215.2 735" class="tn" />
<path d="M1129 752 A42 16 0 0 0 1213 752" class="tn" />
<ellipse cx="1171" cy="742.5" rx="27.5" ry="14.2" class="l" stroke-width="1.2"/>
<ellipse cx="1170.5" cy="742.6" rx="17.4" ry="9.6" class="l" stroke-width="1.4"/>
<path d="M1153.5 744 A17.4 9.6 0 0 0 1187.5 744" class="l" stroke-width="2.6"/>
<ellipse cx="1171" cy="742" rx="14.5" ry="7.5" class="d" />
<ellipse cx="1171" cy="741.5" rx="11" ry="3.5" class="d" />
<line x1="1153.3" y1="720" x2="1153.3" y2="745" class="l" />
<line x1="1188.4" y1="720" x2="1188.4" y2="745" class="l" />
<path d="M1143 728 A30 14 0 0 1 1199 728" class="d" />
<ellipse cx="1145.6" cy="727.3" rx="6" ry="3.8" class="l" stroke-width="1.3"/>
<line x1="1145.6" y1="720.3" x2="1145.6" y2="734.3" class="tn" />
<line x1="1139.6" y1="727.3" x2="1151.6" y2="727.3" class="tn" />
<ellipse cx="1198.3" cy="728.3" rx="6" ry="3.8" class="l" stroke-width="1.3"/>
<line x1="1198.3" y1="721.3" x2="1198.3" y2="735.3" class="tn" />
<line x1="1192.3" y1="728.3" x2="1204.3" y2="728.3" class="tn" />
<ellipse cx="1144.2" cy="754" rx="6" ry="3.8" class="l" stroke-width="1.3"/>
<line x1="1144.2" y1="747" x2="1144.2" y2="761" class="tn" />
<line x1="1138.2" y1="754" x2="1150.2" y2="754" class="tn" />
<ellipse cx="1195.6" cy="754.3" rx="6" ry="3.8" class="l" stroke-width="1.3"/>
<line x1="1195.6" y1="747.3" x2="1195.6" y2="761.3" class="tn" />
<line x1="1189.6" y1="754.3" x2="1201.6" y2="754.3" class="tn" />
</g>
<g id="viewF" fill="#000" shape-rendering="crispEdges">
<ellipse cx="1261" cy="266.3" rx="27" ry="19" transform="rotate(-57.5 1261 266.3)" fill="#fff" stroke="#000" stroke-width="1"/>
<ellipse cx="1265" cy="269" rx="27" ry="19" transform="rotate(-57.5 1265 269)" fill="#fff" stroke="#000" stroke-width="1"/>
<path d="M1249 259 A22 15.5 -57.5 0 1 1276 244.5" class="tn" />
<ellipse cx="1278.6" cy="252.9" rx="3.2" ry="1.8" class="l" transform="rotate(-50 1278.6 252.9)" />
<ellipse cx="1254.1" cy="262.6" rx="3.2" ry="1.8" class="l" transform="rotate(-50 1254.1 262.6)" />
<ellipse cx="1250.1" cy="286.6" rx="3.2" ry="1.8" class="l" transform="rotate(-50 1250.1 286.6)" />
<path d="M1274.3 260.2 L1300 276.55 L1281 294.6 L1255.2 278.4 Q1254 268 1261.5 263.2 Z" fill="#fff" stroke="none"/>
<path d="M1255.2 276.9 Q1254 268 1261.5 263.2" class="l" />
<line x1="1274.3" y1="260.2" x2="1429.6" y2="359" class="l" />
<line x1="1255.2" y1="278.4" x2="1414.4" y2="379.2" class="l" />
<path d="M1429.6 359 Q1445 368 1451.7 383.2 L1474.9 438.6" class="l" />
<path d="M1414.4 379.2 Q1427 387 1431.6 399.3 L1450.7 449.7" class="l" />
<path d="M1414.4 379.2 Q1413 366 1421 362 Q1428 357.5 1435.6 361 Q1439.5 364 1440.6 369.1" class="l" />
<path d="M1431.6 398.3 Q1443 396 1452.7 390.3" class="l" />
<path d="M1296.5 303 Q1294 293 1305 283.5 L1310 279.5" class="l" />
<path d="M1300 305.5 Q1298 297 1309 287 L1316 282.5" class="l" />
<path d="M1303 286 L1314 295 M1301 293 L1308 300 M1306 284 L1300 296" class="tn" />
<path d="M1298 300 L1302 296 L1303 302Z M1308 285 L1312 283 L1311 289Z"/>
<path d="M1434.4 459.2 Q1433.5 456.5 1436 455 L1450.2 449.3 L1475.9 437 L1491 434 Q1495 434.5 1495.2 438.7 L1496.3 444 Q1496 446.5 1491 449 L1479.4 455.7 L1440.8 468.5 Q1436 468 1435 464.5 Z" class="l" />
<path d="M1436.1 461.5 L1456 453 L1480 443 L1495.7 439.9" class="tn" />
<path d="M1448.5 453.5 L1479.4 440.5 Q1483 440 1482.5 443.5 L1452 456 Q1448 456.5 1448.5 453.5" class="tn" />
<line x1="1454" y1="459" x2="1462" y2="456" class="l" stroke-width="2"/>
<line x1="1440" y1="458" x2="1446" y2="456" class="tn" />
<line x1="1485" y1="441" x2="1491" y2="439" class="tn" />
<circle cx="1266.6" cy="221.5" r="8.2" class="l" />
<text x="1266.6" y="225.5" font-size="11" text-anchor="middle" >3</text>
<line x1="1269.5" y1="229.6" x2="1273.5" y2="245" class="l" />
<circle cx="1273.5" cy="245" r="1.7" fill="#000"/>
<circle cx="1280" cy="325" r="8.2" class="l" />
<text x="1280" y="329" font-size="11" text-anchor="middle" >4</text>
<line x1="1285.5" y1="317.4" x2="1299.2" y2="299.7" class="l" />
<circle cx="1299.2" cy="299.7" r="1.7" fill="#000"/>
<circle cx="1400.7" cy="305.4" r="8.2" class="l" />
<text x="1400.7" y="309.4" font-size="11" text-anchor="middle" >5</text>
<line x1="1395" y1="312.2" x2="1374.5" y2="330.5" class="l" />
<circle cx="1374.5" cy="330.5" r="1.7" fill="#000"/>
<circle cx="1456" cy="349.9" r="8.2" class="l" />
<text x="1456" y="353.9" font-size="11" text-anchor="middle" >1</text>
<line x1="1450.2" y1="357.5" x2="1437.3" y2="372.1" class="l" />
<circle cx="1437.3" cy="372.1" r="1.7" fill="#000"/>
<circle cx="1533.7" cy="410.7" r="8.2" class="l" />
<text x="1533.7" y="414.7" font-size="11" text-anchor="middle" >2</text>
<line x1="1526.1" y1="417.1" x2="1491.7" y2="443.4" class="l" />
<circle cx="1491.7" cy="443.4" r="1.7" fill="#000"/>
<circle cx="1404.6" cy="432.9" r="8.2" class="l" />
<text x="1404.6" y="436.9" font-size="11" text-anchor="middle" >5</text>
<line x1="1412.7" y1="434.2" x2="1451.3" y2="441.1" class="l" />
<circle cx="1451.3" cy="441.1" r="1.7" fill="#000"/>
<rect x="1484.2" y="375.3" width="71.4" height="12.2" rx="4" ry="4" fill="none" stroke="#f00" stroke-width="1"/>
<text x="1502" y="384" font-size="11" text-anchor="start" fill="#f00" textLength="32" lengthAdjust="spacingAndGlyphs">W-011</text>
<line x1="1484.2" y1="382" x2="1440.8" y2="421.8" class="r" />
<circle cx="1440.8" cy="421.8" r="1.8" fill="#f00"/>
</g></svg>
</body></html>
